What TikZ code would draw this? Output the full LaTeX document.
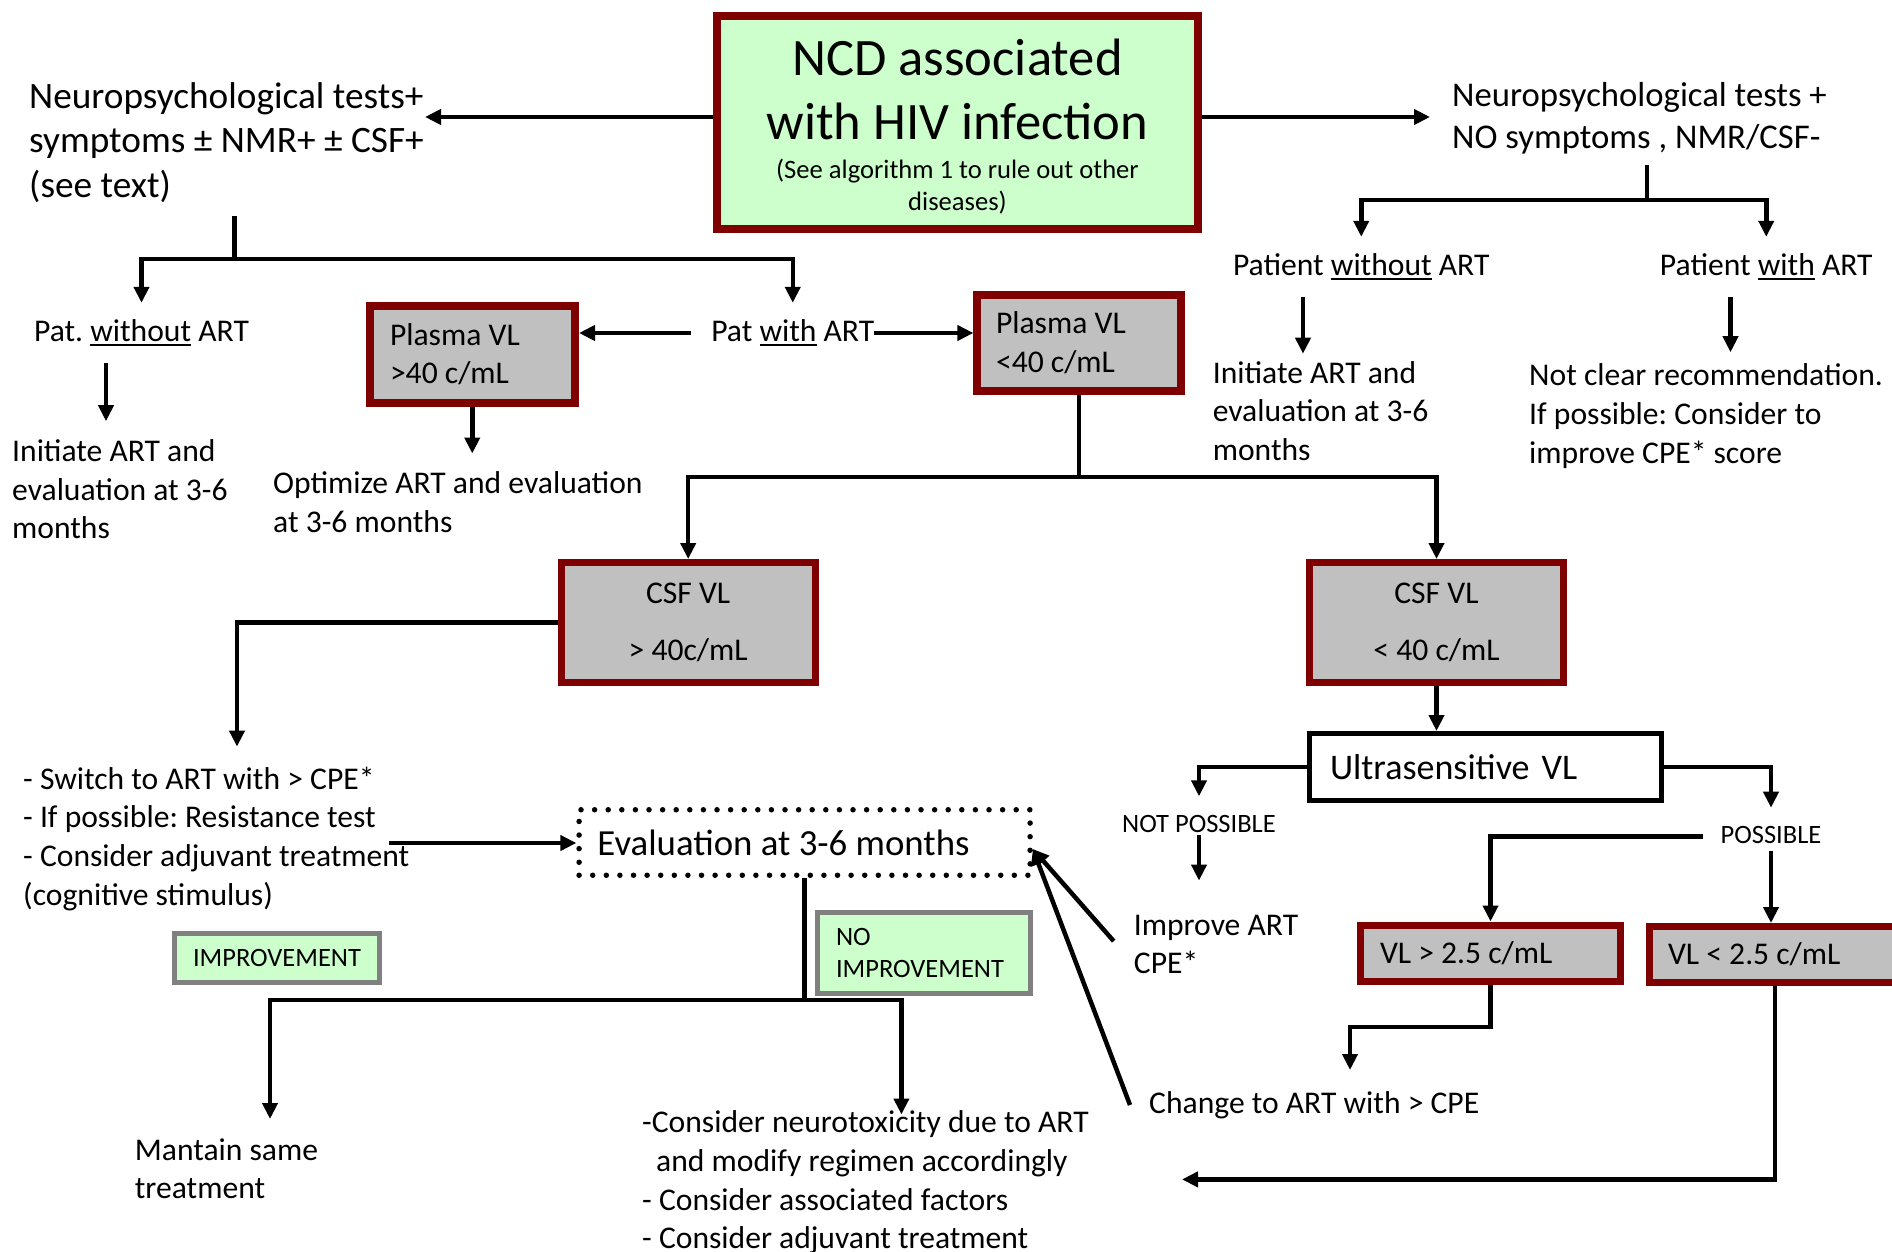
\documentclass[tikz,border=0pt]{standalone}
\usepackage{fontspec}
\setmainfont{Carlito}
\usetikzlibrary{arrows.meta}
\frenchspacing

\definecolor{boxred}{HTML}{7F0000}
\definecolor{boxgray}{HTML}{C0C0C0}
\definecolor{boxgreen}{HTML}{CCFFCC}
\definecolor{framegray}{HTML}{808080}

% font sizes (units are pixels of the drawing, 1px = 1pt)
\newcommand\txtbody{\fontsize{31.6}{38.6}\selectfont}
\newcommand\txtlead{\fontsize{37.3}{44.6}\selectfont}
\newcommand\txtleadr{\fontsize{34.7}{41.5}\selectfont}
\newcommand\txttitle{\fontsize{52.6}{63.4}\selectfont}
\newcommand\txtnote{\fontsize{26.6}{31.5}\selectfont}
\newcommand\txtsmall{\fontsize{26.5}{31.8}\selectfont}
\newcommand\txteval{\fontsize{36.8}{44}\selectfont}
\newcommand\txtultra{\fontsize{36}{43}\selectfont}
\newcommand\txtcsf{\fontsize{31.6}{57.6}\selectfont}

% thick underline for single words
\newsavebox\ulbox
\newcommand\ulword[1]{\sbox\ulbox{#1}\rlap{\rule[-5pt]{\wd\ulbox}{1.8pt}}\usebox\ulbox}

\tikzset{
  conn/.style={line width=4.5pt, draw=black},
  arr/.style={conn, -{Triangle[length=16pt,width=15pt]}},
  redbox/.style={draw=boxred, line width=8pt, fill=boxgray, inner sep=0pt, font=\txtbody},
  greenbox/.style={draw=framegray, line width=5pt, fill=boxgreen, inner sep=0pt, font=\txtsmall},
  txt/.style={anchor=north west, inner sep=0pt, align=flush left, font=\txtbody},
  lbl/.style={anchor=base, font=\txtbody, text height=22pt, text depth=6pt,
              inner xsep=16pt, inner ysep=16pt},
  slbl/.style={anchor=base, font=\txtsmall, text height=18.5pt, text depth=5pt,
               inner sep=17pt},
}

\begin{document}
\begin{tikzpicture}[x=1pt, y=-1pt]
\path[use as bounding box, fill=white] (0,0) rectangle (1892,1252);

% ---------- top box ----------
\node[redbox, fill=boxgreen, minimum width=481pt, minimum height=212.5pt] (ncd) at (957.5,122.75) {};
\node[anchor=north, align=center, font=\txttitle, inner sep=0pt] (ncdtitle) at (957.5,31.3)
  {\strut NCD associated\\with HIV infection};
\node[anchor=north, align=center, font=\txtnote, inner sep=0pt] (ncdnote) at (957.5,156.5)
  {\strut (See algorithm 1 to rule out other\\diseases)};

% ---------- first level texts ----------
\node[txt, font=\txtlead] (leftq) at (29,76.8)
  {\strut Neuropsychological tests+\\symptoms ± NMR+ ± CSF+\\(see text)};
\node[txt, font=\txtleadr] (rightq) at (1452,77.5)
  {\strut Neuropsychological tests +\\NO symptoms , NMR/CSF-};

\coordinate (tipL) at (425,117);
\coordinate (tipR) at (1430,117);
\draw[arr] (ncd.west |- tipL) -- (tipL);
\draw[arr] (ncd.east |- tipR) -- (tipR);

% ---------- right branch ----------
\node[lbl] (patwo) at (1361.25,275) {Patient \ulword{without} ART};
\node[lbl] (patw) at (1766.25,275) {Patient \ulword{with} ART};
\coordinate (rsplit) at (1647,165);
\coordinate (rjoin) at (1647,200);
\draw[conn] (rsplit) -- (rjoin);
\draw[arr] (rjoin) -| (patwo.north);
\draw[arr] (rjoin) -| (patw.north);

\node[txt] (initR) at (1212.6,356) {\strut Initiate ART and\\evaluation at 3-6\\months};
\node[txt] (notclear) at (1529,358.7)
  {\strut Not clear recommendation.\\If possible: Consider to\\improve CPE* score};
\draw[arr] ([xshift=-58.25pt]patwo.south) -- ++(0,56.5);
\draw[arr] ([xshift=-35.75pt]patw.south) -- ++(0,55);

% ---------- left branch ----------
\node[lbl] (patwoL) at (141.5,341) {Pat. \ulword{without} ART};
\node[lbl, inner xsep=20pt] (patwL) at (792.75,341) {Pat \ulword{with} ART};
\coordinate (lsplit) at (234.5,216);
\coordinate (ljoin) at (234.5,259);
\draw[conn] (lsplit) -- (ljoin);
\draw[arr] (ljoin) -| (patwoL.north);
\draw[arr] (ljoin) -| (patwL.north);

\node[txt] (initL) at (12,434.4) {\strut Initiate ART and\\evaluation at 3-6\\months};
\draw[arr] ([xshift=-35.5pt]patwoL.south) -- ++(0,58);

\node[redbox, minimum width=205.5pt, minimum height=96.5pt, text width=164.5pt,
      inner xsep=20.5pt, align=flush left] (plasmaA) at (472.25,354.25) {Plasma VL\\>40 c/mL};
\node[redbox, minimum width=203.3pt, minimum height=95.6pt, text width=166.1pt,
      inner xsep=18.6pt, align=flush left] (plasmaB) at (1079.05,342.8) {Plasma VL\\<40 c/mL};
\draw[arr] (patwL.west) -- (patwL.west -| plasmaA.east);
\draw[arr] ([xshift=-20pt]patwL.east) -- (patwL.east -| plasmaB.west);

\node[txt, font=\fontsize{31.6}{39}\selectfont] (optim) at (273,465.7)
  {\strut Optimize ART and evaluation\\at 3-6 months};
\draw[arr] (plasmaA.south) -- ++(0,47);

% ---------- CSF viral load ----------
\node[redbox, line width=7pt, minimum width=254pt, minimum height=120pt, align=center,
      font=\txtcsf] (csfA) at (688.2,622.5) {CSF VL\\> 40c/mL};
\node[redbox, line width=7pt, minimum width=254pt, minimum height=120pt, align=center,
      font=\txtcsf] (csfB) at (1436.5,622.5) {CSF VL\\< 40 c/mL};
\coordinate (pbjoin) at (1079.05,477);
\draw[conn] (plasmaB.south) -- (pbjoin);
\draw[arr] (pbjoin) -| (csfA.north);
\draw[arr] (pbjoin) -| (csfB.north);

% ---------- high CSF load ----------
\node[txt] (listL) at (23,762)
  {\strut - Switch to ART with > CPE*\\- If possible: Resistance test\\- Consider adjuvant treatment\\(cognitive stimulus)};
\coordinate (lsw) at (237,746.6);
\draw[arr] (csfA.west) -| (lsw);

\node[draw=black, line width=5.5pt, dash pattern=on 0pt off 13.6pt, line cap=round,
      minimum width=451pt, minimum height=65.5pt, text width=414.3pt, inner xsep=18.35pt,
      inner ysep=0pt, align=flush left, font=\txteval] (eval) at (804.6,842.5) {Evaluation at 3-6 months};
\coordinate (lstart) at (389,843);
\draw[arr] (lstart) -- (lstart -| eval.west);

\node[greenbox, minimum width=205pt, minimum height=49.4pt] (impr) at (277,957.8) {IMPROVEMENT};
\node[greenbox, minimum width=213pt, minimum height=81pt, text width=176pt, inner xsep=18.5pt,
      align=flush left] (noimpr) at (924,953) {NO\\IMPROVEMENT};

\coordinate (evjoin) at (804.6,1000);
\coordinate (mtip) at (270,1119);
\coordinate (ntip) at (901.4,1114.5);
\draw[conn] (eval.south) -- (evjoin);
\draw[arr] (evjoin) -| (mtip);
\draw[arr] (evjoin) -| (ntip);

\node[txt] (mantain) at (134.7,1133) {\strut Mantain same\\treatment};
\node[txt] (rlist) at (642,1105.6)
  {\strut -Consider neurotoxicity due to ART\\\hspace*{14pt}and modify regimen accordingly\\- Consider associated factors\\- Consider adjuvant treatment};

% ---------- low CSF load ----------
\node[draw=black, line width=5pt, fill=white, minimum width=352pt, minimum height=67pt,
      text width=311pt, inner xsep=20.5pt, inner ysep=0pt, align=flush left, font=\txtultra]
      (ultra) at (1485.5,767) {Ultrasensitive\hspace{12pt}VL};
\draw[arr] (csfB.south) -- (csfB.south |- ultra.north);

\node[slbl] (notposs) at (1199,832) {NOT POSSIBLE};
\node[slbl] (poss) at (1771,843.4) {POSSIBLE};
\draw[arr] (ultra.west) -| (notposs.north);
\draw[arr] (ultra.east) -| (poss.north);

\node[txt, inner xsep=20pt] (improve) at (1113.7,908) {\strut Improve ART\\CPE*};
\draw[arr] ([yshift=-3pt]notposs.base) -- ++(0,45.6);

\node[redbox, line width=7pt, minimum width=260pt, minimum height=56.5pt, text width=221pt,
      inner xsep=19.5pt, align=flush left] (vla) at (1490.5,953.25) {VL > 2.5 c/mL};
\node[redbox, line width=7pt, minimum width=251.8pt, minimum height=56pt, text width=214pt,
      inner xsep=18.9pt, align=flush left] (vlb) at (1775,954.5) {VL < 2.5 c/mL};
\draw[arr] (poss.west) -| (vla.north);
\draw[arr] ([yshift=-7.6pt]poss.base) -- (poss.base |- vlb.north);

\node[lbl, anchor=base west, inner xsep=19pt] (chg) at (1130,1113) {Change to ART with > CPE};
\coordinate (chgtip) at (1350,1070);
\draw[arr] (vla.south) -- ++(0,42) -| (chgtip);

\coordinate (btip) at (1182,1179.4);
\draw[arr] (vlb.south) |- (btip);

% arrows back to the evaluation
\coordinate (evtip) at ([yshift=-6.5pt]eval.east);
\draw[arr] (improve.west) -- (evtip);
\draw[arr] (chg.west) -- (evtip);
\end{tikzpicture}
\end{document}
